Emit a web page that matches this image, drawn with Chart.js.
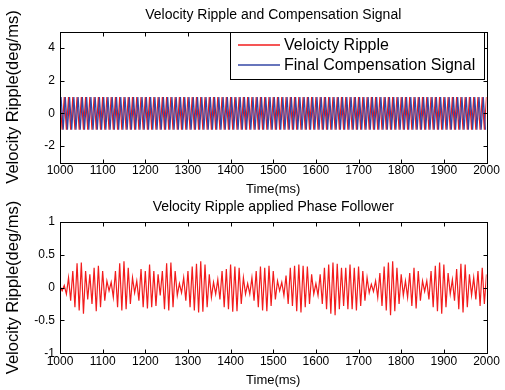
<!DOCTYPE html>
<html>
<head>
<meta charset="utf-8">
<script src="https://cdn.jsdelivr.net/npm/chart.js@4.4.0/dist/chart.umd.min.js"></script>
<style>
html, body { margin: 0; padding: 0; background: #fff; }
#wrap { position: relative; width: 505px; height: 390px; overflow: hidden; }
.box { position: absolute; left: 0; width: 505px; }
#topBox { top: 0; height: 200px; }
#bottomBox { top: 195px; height: 195px; }
</style>
</head>
<body>
<div id="wrap">
  <div class="box" id="topBox"><canvas id="topChart"></canvas></div>
  <div class="box" id="bottomBox"><canvas id="bottomChart"></canvas></div>
</div>
<script>
// time axis
const timeTicks = [1000, 1100, 1200, 1300, 1400, 1500, 1600, 1700, 1800, 1900, 2000];
const halfCycleMs = 5;
const redStartMs = 1000;
const blueStartMs = 1002.5;
const rippleStartMs = 1000;

// top plot: peaks of each half cycle (deg/ms)
const topTicks = [-2, 0, 2, 4];
const velocityRipple = [
  1,-1,1,-1,1,-1,1,-1,1,-1,1,-1,1,-1,1,-1,1,-1,1,-1,
  1,-1,1,-1,1,-1,1,-1,1,-1,1,-1,1,-1,1,-1,1,-1,1,-1,
  1,-1,1,-1,1,-1,1,-1,1,-1,1,-1,1,-1,1,-1,1,-1,1,-1,
  1,-1,1,-1,1,-1,1,-1,1,-1,1,-1,1,-1,1,-1,1,-1,1,-1,
  1,-1,1,-1,1,-1,1,-1,1,-1,1,-1,1,-1,1,-1,1,-1,1,-1,
  1,-1,1,-1,1,-1,1,-1,1,-1,1,-1,1,-1,1,-1,1,-1,1,-1,
  1,-1,1,-1,1,-1,1,-1,1,-1,1,-1,1,-1,1,-1,1,-1,1,-1,
  1,-1,1,-1,1,-1,1,-1,1,-1,1,-1,1,-1,1,-1,1,-1,1,-1,
  1,-1,1,-1,1,-1,1,-1,1,-1,1,-1,1,-1,1,-1,1,-1,1,-1,
  1,-1,1,-1,1,-1,1,-1,1,-1,1,-1,1,-1,1,-1,1,-1,1,-1,
  1
];
const compensation = [
  1,-1,1,-1,1,-1,1,-1,1,-1,1,-1,1,-1,1,-1,1,-1,1,-1,
  1,-1,1,-1,1,-1,1,-1,1,-1,1,-1,1,-1,1,-1,1,-1,1,-1,
  1,-1,1,-1,1,-1,1,-1,1,-1,1,-1,1,-1,1,-1,1,-1,1,-1,
  1,-1,1,-1,1,-1,1,-1,1,-1,1,-1,1,-1,1,-1,1,-1,1,-1,
  1,-1,1,-1,1,-1,1,-1,1,-1,1,-1,1,-1,1,-1,1,-1,1,-1,
  1,-1,1,-1,1,-1,1,-1,1,-1,1,-1,1,-1,1,-1,1,-1,1,-1,
  1,-1,1,-1,1,-1,1,-1,1,-1,1,-1,1,-1,1,-1,1,-1,1,-1,
  1,-1,1,-1,1,-1,1,-1,1,-1,1,-1,1,-1,1,-1,1,-1,1,-1,
  1,-1,1,-1,1,-1,1,-1,1,-1,1,-1,1,-1,1,-1,1,-1,1,-1,
  1,-1,1,-1,1,-1,1,-1,1,-1,1,-1,1,-1,1,-1,1,-1,1,-1
];

// bottom plot: remaining ripple after phase follower
const bottomTicks = [-1, -0.5, 0, 0.5, 1];
const residualRipple = [
  0.02,-0.05,0.03,-0.1,0.15,-0.2,0.25,-0.3,0.37,-0.35,
  0.38,-0.4,0.25,-0.18,0.2,-0.25,0.3,-0.36,0.33,-0.3,
  0.25,-0.2,0.1,-0.05,0.08,-0.15,0.25,-0.3,0.37,-0.35,
  0.4,-0.33,0.3,-0.25,0.15,-0.08,0.1,-0.2,0.28,-0.3,
  0.25,-0.32,0.35,-0.3,0.25,-0.28,0.2,-0.12,0.25,-0.33,
  0.37,-0.35,0.38,-0.3,0.25,-0.12,0.06,-0.08,0.15,-0.2,
  0.25,-0.3,0.32,-0.35,0.36,-0.38,0.4,-0.37,0.35,-0.3,
  0.2,-0.15,0.08,-0.1,0.12,-0.18,0.25,-0.3,0.28,-0.33,
  0.35,-0.37,0.32,-0.36,0.3,-0.25,0.15,-0.1,0.06,-0.1,
  0.15,-0.2,0.25,-0.3,0.32,-0.35,0.3,-0.36,0.33,-0.28,
  0.25,-0.18,0.1,-0.05,0.08,-0.12,0.18,-0.25,0.3,-0.28,
  0.33,-0.36,0.35,-0.38,0.33,-0.3,0.32,-0.25,0.2,-0.1,
  0.06,-0.12,0.2,-0.25,0.3,-0.33,0.35,-0.4,0.38,-0.42,
  0.36,-0.33,0.3,-0.28,0.3,-0.33,0.35,-0.33,0.3,-0.35,
  0.32,-0.28,0.25,-0.2,0.15,-0.08,0.05,-0.06,0.1,-0.15,
  0.22,-0.28,0.32,-0.35,0.38,-0.42,0.4,-0.36,0.3,-0.25,
  0.2,-0.12,0.1,-0.15,0.22,-0.28,0.3,-0.32,0.25,-0.2,
  0.1,-0.06,0.1,-0.18,0.25,-0.3,0.33,-0.36,0.38,-0.4,
  0.35,-0.3,0.22,-0.1,0.12,-0.2,0.28,-0.33,0.36,-0.38,
  0.35,-0.3,0.2,-0.12,0.15,-0.18,0.25,-0.28,0.3,-0.25,
  0.2
];

const RED = '#f21c1c';
const BLUE = '#3447a6';
const FONT = '"Liberation Sans", Arial, Helvetica, sans-serif';

Chart.defaults.font.family = FONT;
Chart.defaults.color = '#000';

function toPoints(values, start) {
  return values.map((v, i) => ({ x: start + i * halfCycleMs, y: v }));
}

// box around the axes with ticks pointing inwards, like matlab
const axesFrame = {
  id: 'axesFrame',
  afterDraw(chart) {
    const { ctx, chartArea: a, scales: { x, y } } = chart;
    const L = Math.round(a.left) + 0.5, R = Math.round(a.right) + 0.5;
    const T = Math.round(a.top) + 0.5, B = Math.round(a.bottom) + 0.5;
    ctx.save();
    ctx.strokeStyle = '#000';
    ctx.lineWidth = 1;
    ctx.beginPath();
    x.ticks.forEach(t => {
      const px = Math.round(x.getPixelForValue(t.value)) + 0.5;
      ctx.moveTo(px, B); ctx.lineTo(px, B - 4);
      ctx.moveTo(px, T); ctx.lineTo(px, T + 4);
    });
    y.ticks.forEach(t => {
      const py = Math.round(y.getPixelForValue(t.value)) + 0.5;
      ctx.moveTo(L, py); ctx.lineTo(L + 4, py);
      ctx.moveTo(R, py); ctx.lineTo(R - 4, py);
    });
    ctx.stroke();
    ctx.strokeRect(L, T, R - L, B - T);
    ctx.restore();
  }
};

// legend box inside the top axes
const legendColors = [RED, BLUE];
const insideLegend = {
  id: 'insideLegend',
  afterDraw(chart) {
    const { ctx } = chart;
    ctx.save();
    ctx.fillStyle = '#fff';
    ctx.fillRect(230.5, 32.5, 254, 47);
    ctx.strokeStyle = '#000';
    ctx.lineWidth = 1;
    ctx.strokeRect(230.5, 32.5, 254, 47);
    ctx.font = '16px ' + FONT;
    ctx.textBaseline = 'middle';
    chart.data.datasets.forEach((d, i) => {
      const yy = 45 + i * 20;
      ctx.beginPath();
      ctx.strokeStyle = legendColors[i];
      ctx.lineWidth = 1.6;
      ctx.moveTo(238, yy); ctx.lineTo(280, yy);
      ctx.stroke();
      ctx.fillStyle = '#000';
      ctx.fillText(d.label, 284, yy + 1);
    });
    ctx.restore();
  }
};

function xScale() {
  return {
    type: 'linear', min: 1000, max: 2000,
    afterBuildTicks: s => { s.ticks = timeTicks.map(v => ({ value: v })); },
    afterFit: s => { s.height = 34.8; },
    grid: { display: false, drawTicks: false },
    border: { display: false },
    ticks: { padding: 1, font: { size: 12 }, maxRotation: 0, autoSkip: false, callback: v => String(v) },
    title: { display: true, text: 'Time(ms)', font: { size: 13 }, padding: { top: 0, bottom: 0 } }
  };
}

function yScale(min, max, tickValues) {
  return {
    min, max,
    afterBuildTicks: s => { s.ticks = tickValues.map(v => ({ value: v })); },
    afterFit: s => { s.width = 60; },
    grid: { display: false, drawTicks: false },
    border: { display: false },
    ticks: { padding: 5, font: { size: 12 }, autoSkip: false, callback: v => String(v) },
    title: { display: true, text: 'Velocity Ripple(deg/ms)', font: { size: 16.5 }, padding: { top: 4, bottom: 0 } }
  };
}

new Chart(document.getElementById('topChart'), {
  type: 'line',
  data: {
    datasets: [
      {
        label: 'Veloicty Ripple', order: 1,
        data: toPoints(velocityRipple, redStartMs),
        borderColor: RED, borderWidth: 1.2, pointRadius: 0, tension: 0, fill: false
      },
      {
        label: 'Final Compensation Signal', order: 0,
        data: toPoints(compensation, blueStartMs),
        borderColor: BLUE, borderWidth: 1.2, pointRadius: 0, tension: 0, fill: false
      }
    ]
  },
  options: {
    responsive: true, maintainAspectRatio: false, animation: false,
    layout: { padding: { top: 0, left: 0, right: 18.5, bottom: 2.7 } },
    scales: { x: xScale(), y: yScale(-3, 5, topTicks) },
    plugins: {
      legend: { display: false },
      tooltip: { enabled: false },
      title: {
        display: true, fullSize: false, text: 'Velocity Ripple and Compensation Signal',
        font: { size: 14, weight: 'normal' }, color: '#000', padding: { top: 6.6, bottom: 8.1 }
      }
    }
  },
  plugins: [axesFrame, insideLegend]
});

new Chart(document.getElementById('bottomChart'), {
  type: 'line',
  data: {
    datasets: [{
      data: toPoints(residualRipple, rippleStartMs),
      borderColor: RED, borderWidth: 1.2, pointRadius: 0, tension: 0, fill: false
    }]
  },
  options: {
    responsive: true, maintainAspectRatio: false, animation: false,
    layout: { padding: { top: 0, left: 0, right: 18.5, bottom: 1.9 } },
    scales: { x: xScale(), y: yScale(-1, 1, bottomTicks) },
    plugins: {
      legend: { display: false },
      tooltip: { enabled: false },
      title: {
        display: true, fullSize: false, text: 'Velocity Ripple applied Phase Follower',
        font: { size: 14, weight: 'normal' }, color: '#000', padding: { top: 3.6, bottom: 6.3 }
      }
    }
  },
  plugins: [axesFrame]
});
</script>
</body>
</html>
